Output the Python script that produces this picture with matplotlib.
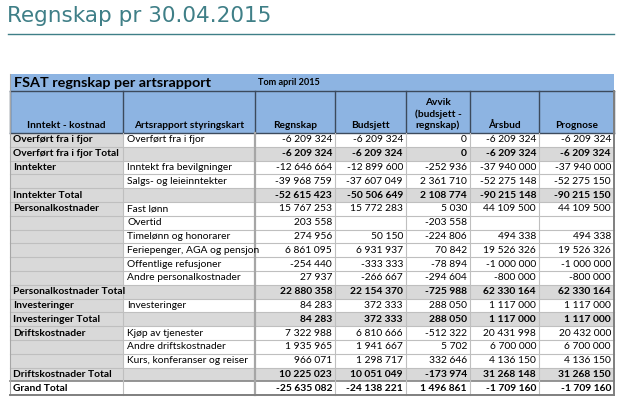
import matplotlib
matplotlib.use("Agg")
import matplotlib.pyplot as plt
from matplotlib.patches import Rectangle

# data
groups = ["Overført fra i fjor", "Overført fra i fjor Total", "Inntekter", "", "Inntekter Total",
          "Personalkostnader", "", "", "", "", "", "Personalkostnader Total",
          "Investeringer", "Investeringer Total", "Driftskostnader", "", "",
          "Driftskostnader Total", "Grand Total"]
accounts = ["Overført fra i fjor", "", "Inntekt fra bevilgninger", "Salgs- og leieinntekter", "",
            "Fast lønn", "Overtid", "Timelønn og honorarer", "Feriepenger, AGA og pensjon",
            "Offentlige refusjoner", "Andre personalkostnader", "",
            "Investeringer", "", "Kjøp av tjenester", "Andre driftskostnader",
            "Kurs, konferanser og reiser", "", ""]
regnskap = [-6209324, -6209324, -12646664, -39968759, -52615423, 15767253, 203558, 274956,
            6861095, -254440, 27937, 22880358, 84283, 84283, 7322988, 1935965, 966071,
            10225023, -25635082]
budsjett = [-6209324, -6209324, -12899600, -37607049, -50506649, 15772283, None, 50150,
            6931937, -333333, -266667, 22154370, 372333, 372333, 6810666, 1941667, 1298717,
            10051049, -24138221]
avvik = [0, 0, -252936, 2361710, 2108774, 5030, -203558, -224806, 70842, -78894, -294604,
         -725988, 288050, 288050, -512322, 5702, 332646, -173974, 1496861]
arsbud = [-6209324, -6209324, -37940000, -52275148, -90215148, 44109500, None, 494338,
          19526326, -1000000, -800000, 62330164, 1117000, 1117000, 20431998, 6700000, 4136150,
          31268148, -1709160]
prognose = [-6209324, -6209324, -37940000, -52275150, -90215150, 44109500, None, 494338,
            19526326, -1000000, -800000, 62330164, 1117000, 1117000, 20432000, 6700000, 4136150,
            31268150, -1709160]
headers = ["Inntekt - kostnad", "Artsrapport styringskart", "Regnskap", "Budsjett",
           "Avvik\n(budsjett -\nregnskap)", "Årsbud", "Prognose"]
page_title = "Regnskap pr 30.04.2015"
table_title = "FSAT regnskap per artsrapport"
period = "Tom april 2015"

# layout (pixels)
W, H = 629, 408
edges = [10, 123, 255, 335, 406, 470, 539, 614]
title_top, head_top, head_bot = 74, 91, 133
row_h = 13.8

teal = "#3f7f87"
blue = "#8db4e2"
gray = "#d9d9d9"
grid = "#bfbfbf"
dark = "#3c4a5c"
font = ["Lato", "DejaVu Sans"]
fs = 7.4


def fmt(v):
    if v is None:
        return ""
    return f"{v:,}".replace(",", " ")


fig = plt.figure(figsize=(W / 100, H / 100), dpi=100)
ax = fig.add_axes([0, 0, 1, 1])
ax.set_xlim(0, W)
ax.set_ylim(H, 0)
ax.axis("off")

# page heading
ax.text(7, 16, page_title, color=teal, fontsize=15.5, va="center", ha="left",
        family=["DejaVu Sans"])
ax.plot([8, 614], [34, 34], color=teal, lw=1.0)

# title bar + header
ax.add_patch(Rectangle((edges[0], title_top), edges[-1] - edges[0], head_bot - title_top,
                       facecolor=blue, edgecolor="none"))
ax.text(14, (title_top + head_top) / 2 + 0.5, table_title, fontsize=10.4, weight="bold",
        va="center", ha="left", family=font)
ax.text(258, (title_top + head_top) / 2, period, fontsize=6.6, weight="bold",
        va="center", ha="left", family=font)
for i, h in enumerate(headers):
    cx = (edges[i] + edges[i + 1]) / 2
    ax.text(cx, head_bot - 3, h, fontsize=7.3, weight="bold", va="bottom", ha="center",
            family=font, linespacing=1.25)
for x in edges:
    ax.plot([x, x], [head_top, head_bot], color=dark, lw=1.0)
ax.plot([edges[0], edges[-1]], [head_top, head_top], color=dark, lw=1.0)
ax.plot([edges[0], edges[-1]], [head_bot, head_bot], color=dark, lw=1.0)

# body rows
values = [regnskap, budsjett, avvik, arsbud, prognose]
n = len(groups)
for r in range(n):
    y0 = head_bot + r * row_h
    yc = y0 + row_h / 2
    is_total = groups[r].endswith("Total") and groups[r] != "Grand Total"
    is_grand = groups[r] == "Grand Total"
    if is_total:
        ax.add_patch(Rectangle((edges[0], y0), edges[-1] - edges[0], row_h,
                               facecolor=gray, edgecolor="none"))
    elif not is_grand:
        ax.add_patch(Rectangle((edges[0], y0), edges[1] - edges[0], row_h,
                               facecolor=gray, edgecolor="none"))
    bold = is_total or is_grand
    ax.text(edges[0] + 3, yc, groups[r], fontsize=fs, weight="bold", va="center",
            ha="left", family=font)
    ax.text(edges[1] + 4, yc, accounts[r], fontsize=fs, va="center", ha="left", family=font)
    for c, col in enumerate(values):
        ax.text(edges[c + 3] - 3, yc, fmt(col[r]), fontsize=fs,
                weight="bold" if bold else "normal", va="center", ha="right", family=font)
    if r > 0:
        lw, lc = (1.3, "#8c8c8c") if is_grand else (0.8, grid)
        ax.plot([edges[0], edges[-1]], [y0, y0], color=lc, lw=lw)

body_bot = head_bot + n * row_h
for i, x in enumerate(edges[1:-1], start=1):
    lc, lw = ("#a6a6a6", 1.6) if i == 2 else (grid, 0.8)
    ax.plot([x, x], [head_bot, body_bot], color=lc, lw=lw)
ax.plot([edges[0], edges[0]], [title_top, body_bot], color="#a6a6a6", lw=0.8)
ax.plot([edges[-1], edges[-1]], [head_top, body_bot], color="#7f7f7f", lw=1.4)
ax.plot([edges[0], edges[-1]], [body_bot, body_bot], color="#7f7f7f", lw=1.4)

fig.savefig("out.png", dpi=100, facecolor="white")
